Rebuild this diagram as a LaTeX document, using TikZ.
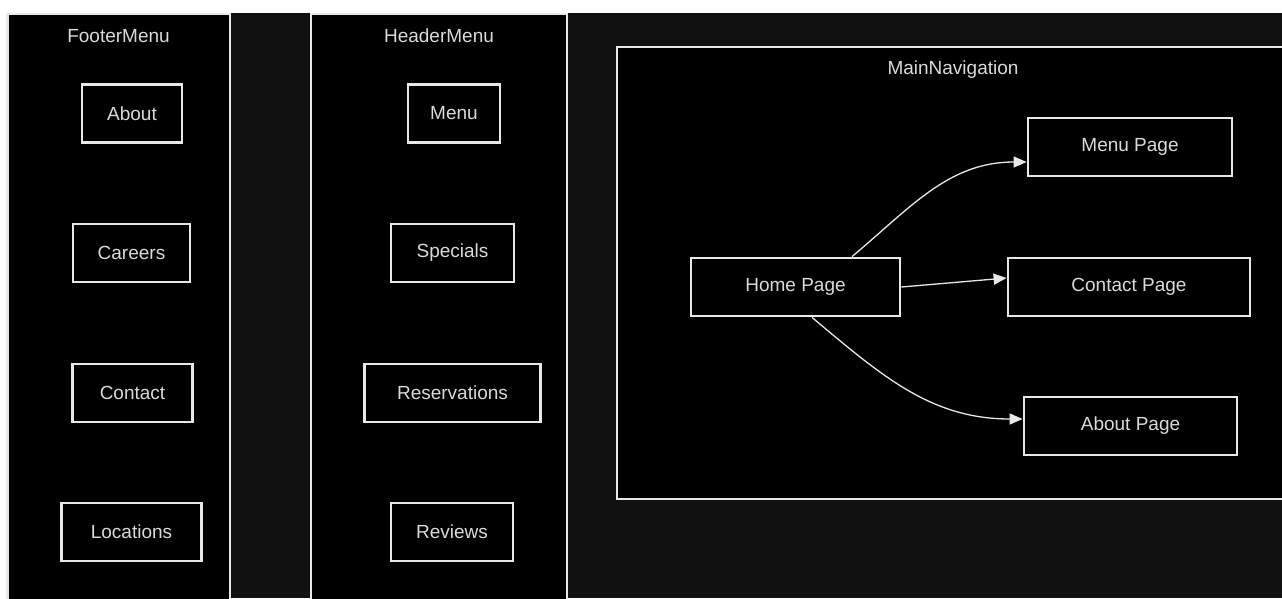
\documentclass[tikz,border=0pt]{standalone}
\usepackage{fontspec}
\setmainfont{Liberation Sans}
\usetikzlibrary{arrows.meta}
\definecolor{navline}{RGB}{232,232,232}
\definecolor{navtext}{RGB}{218,218,218}
\definecolor{navbg}{RGB}{17,17,17}
\tikzset{
  group/.style={draw=navline,line width=2.8pt,fill=black},
  pagebox/.style={draw=navline,line width=2.8pt,fill=black,inner sep=0pt,minimum height=58pt,text=navtext},
  title/.style={text=navtext},
  link/.style={navline,line width=1.3pt,-{Triangle[length=13pt,width=11pt]}}
}
\begin{document}
\begin{tikzpicture}[x=1pt,y=-1pt,font=\fontsize{19}{23}\selectfont] % menus and page navigation
        \useasboundingbox (0,0) rectangle (1282,598);
        \clip (0,0) rectangle (1282,598);
        \fill[white] (0,0) rectangle (1282,598);
        \fill[navbg] (6,13) rectangle (1282,598);
        \draw[group] (7.5,14) rectangle (230,620);
        \draw[group] (311,14) rectangle (567,620);
        \draw[group] (617,47) rectangle (1290,499);
        \node[title] (footertitle) at (118.5,36) {FooterMenu};
        \node[title] (headertitle) at (439,36) {HeaderMenu};
        \node[title] (maintitle) at (953,70) {MainNavigation};
        % footer
        \node[pagebox,minimum width=100pt] (about) at (132,113.5) {About};
        \node[pagebox,minimum width=117pt] (careers) at (131.5,253) {Careers};
        \node[pagebox,minimum width=120pt] (contact) at (132.5,393) {Contact};
        \node[pagebox,minimum width=140pt] (locations) at (131.5,532) {Locations};
        % header
        \node[pagebox,minimum width=92pt] (menu) at (454,113.5) {Menu};
        \node[pagebox,minimum width=123pt] (specials) at (452.5,253) {Specials};
        \node[pagebox,minimum width=176pt] (reservations) at (452.5,393) {Reservations};
        \node[pagebox,minimum width=122pt] (reviews) at (452,532) {Reviews};
        % main navigation
        \node[pagebox,minimum width=209pt] (homepage) at (795.5,287) {Home Page};
        \node[pagebox,minimum width=204pt] (menupage) at (1130,147) {Menu Page};
        \node[pagebox,minimum width=242pt] (contactpage) at (1129,287) {Contact Page};
        \node[pagebox,minimum width=213pt] (aboutpage) at (1130.5,426) {About Page};
        \draw[link] ([xshift=56.5pt]homepage.north) to[out=40,in=180] ([yshift=-15pt]menupage.west);
        \draw[link] (homepage.east) -- ([yshift=9pt]contactpage.west);
        \draw[link] ([xshift=16.5pt]homepage.south) to[out=-40,in=180] ([yshift=7pt]aboutpage.west);
\end{tikzpicture}
\end{document}
